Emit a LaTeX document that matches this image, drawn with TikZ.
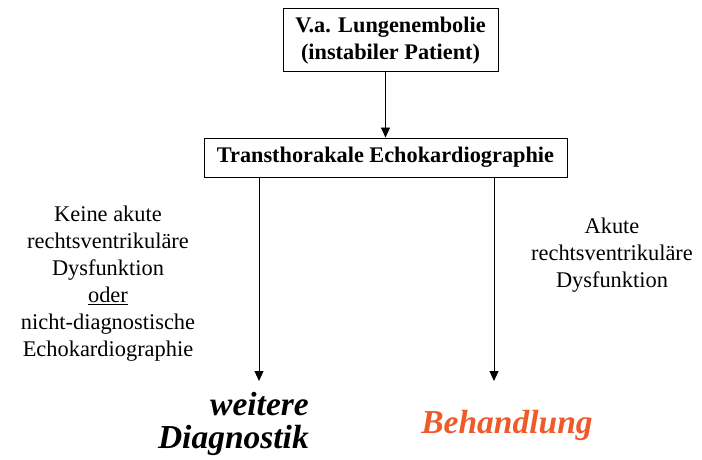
\documentclass[tikz,border=0pt]{standalone}
\usepackage{fontspec}
\setmainfont{Liberation Serif}
\usepackage{xcolor}
\usetikzlibrary{arrows.meta, positioning}

\definecolor{behorange}{RGB}{240,90,42}

\begin{document}
\begin{tikzpicture}[>={Triangle[length=10pt,width=9pt]}, x=1pt, y=1pt,
  box/.style={draw, line width=1pt, align=center, inner sep=0pt,
    font=\fontsize{22.3}{26.5}\selectfont\bfseries},
  lbl/.style={align=center, inner sep=0pt, font=\fontsize{22.4}{27}\selectfont},
  result/.style={inner sep=0pt, font=\fontsize{33.5}{33}\selectfont\bfseries\itshape}]
  \useasboundingbox (0,0) rectangle (702,-460);
  % suspicion box
  \node[box, minimum width=215pt, minimum height=63pt] (suspect) at (390.5,-40.5)
    {V.a. Lungenembolie\\(instabiler Patient)};
  % echo box
  \node[box, minimum width=363pt, minimum height=39pt] (echo) at (385.5,-157.5)
    {Transthorakale Echokardiographie};
  \draw[->, line width=0.9pt] (echo.north |- suspect.south) -- (echo.north);
  % branch ends
  \coordinate (endL) at (259,-381);
  \coordinate (endR) at (494,-381);
  \draw[->, line width=0.9pt] (echo.south -| endL) -- (endL);
  \draw[->, line width=0.9pt] (echo.south -| endR) -- (endR);
  % branch labels
  \node[lbl] (noRV) at (108,-284)
    {Keine akute\\rechtsventrikuläre\\Dysfunktion\\\underline{oder}\\nicht-diagnostische\\Echokardiographie};
  \node[lbl] (RV) at (612,-255) {Akute\\rechtsventrikuläre\\Dysfunktion};
  % outcomes
  \node[result, align=right, anchor=east] (diag) at (309,-424) {weitere\\Diagnostik};
  \node[result, text=behorange] (treat) at (507,-425) {Behandlung};
\end{tikzpicture}
\end{document}
